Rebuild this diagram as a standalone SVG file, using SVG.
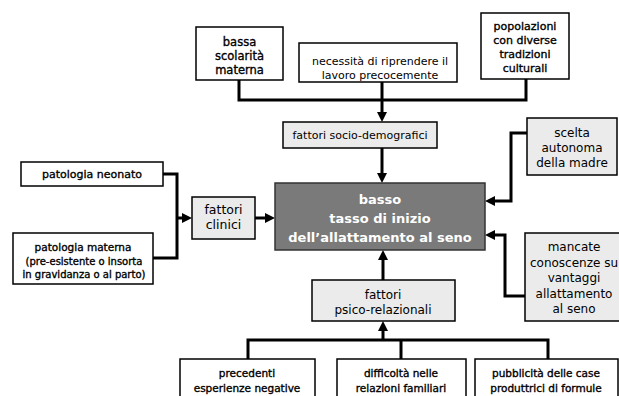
<svg xmlns="http://www.w3.org/2000/svg" width="619" height="396" viewBox="0 0 619 396">
<defs>
<marker id="ah" markerUnits="userSpaceOnUse" markerWidth="10" markerHeight="10" refX="6" refY="5" orient="auto">
<path d="M0,0 L10,5 L0,10 z" fill="#000"/>
</marker>
<style>
.box{fill:#fff;stroke:#000;stroke-width:1.5}
.lt{fill:#ebebeb;stroke:#000;stroke-width:1.5}
.dk{fill:#7a7a7a;stroke:#333;stroke-width:1.5}
.c{fill:none;stroke:#000;stroke-width:3}
.a{fill:none;stroke:#000;stroke-width:3;marker-end:url(#ah)}
text{font-family:"DejaVu Sans","Liberation Sans",sans-serif;text-anchor:middle;fill:#000}
.hv{stroke:#000;stroke-width:0.35}
.f11{font-size:11px}
.f115{font-size:11.5px}
.f12{font-size:12px}
.f125{font-size:12.5px}
.f105{font-size:10.5px}
.f10{font-size:10px}
.m{font-size:13px;font-weight:700;fill:#fff}
</style>
</defs>
<rect width="619" height="396" fill="#fff"/>
<g id="connectors">
<polyline class="c" points="239,80 239,100 526,100 526,79"/>
<line class="c" x1="382" y1="82" x2="382" y2="100"/>
<line class="a" x1="382" y1="100" x2="382" y2="118"/>
<line class="a" x1="382" y1="148" x2="382" y2="179"/>
<polyline class="c" points="163,174 177,174 177,258 153,258"/>
<line class="a" x1="177" y1="218" x2="188" y2="218"/>
<line class="a" x1="255" y1="218" x2="271" y2="218"/>
<polyline class="a" points="527,133 511,133 511,201 489,201"/>
<polyline class="a" points="525,296 505,296 505,235 489,235"/>
<line class="a" x1="383" y1="280" x2="383" y2="254"/>
<polyline class="c" points="248,359 248,340 548,340 548,359"/>
<line class="c" x1="401" y1="340" x2="401" y2="359"/>
<line class="a" x1="383" y1="340" x2="383" y2="325"/>
</g>
<g id="bassa">
<rect class="box" x="196" y="27" width="87" height="53"/>
<text class="f115 hv" x="239.5" y="46">bassa</text>
<text class="f115 hv" x="239.5" y="60">scolarità</text>
<text class="f115 hv" x="239.5" y="74">materna</text>
</g>
<g id="necessita">
<rect class="box" x="299" y="43" width="158" height="39"/>
<text class="f11" x="380" y="65">necessità di riprendere il</text>
<text class="f11" x="380" y="79">lavoro precocemente</text>
</g>
<g id="popolazioni">
<rect class="box" x="481" y="13" width="88" height="66"/>
<text class="f11 hv" x="525" y="30">popolazioni</text>
<text class="f11 hv" x="525" y="44">con diverse</text>
<text class="f11 hv" x="525" y="58">tradizioni</text>
<text class="f11 hv" x="525" y="72">culturali</text>
</g>
<g id="socio">
<rect class="lt" x="283" y="122" width="154" height="26"/>
<text class="f11" x="360" y="139">fattori socio-demografici</text>
</g>
<g id="main">
<rect class="dk" x="275" y="183" width="210" height="67"/>
<text class="m" x="380" y="204">basso</text>
<text class="m" x="380" y="223">tasso di inizio</text>
<text class="m" x="380" y="242">dell’allattamento al seno</text>
</g>
<g id="clinici">
<rect class="lt" x="192" y="197" width="63" height="42"/>
<text class="f125" x="223.5" y="214">fattori</text>
<text class="f125" x="223.5" y="229">clinici</text>
</g>
<g id="neonato">
<rect class="box" x="21" y="162" width="142" height="24"/>
<text class="f11 hv" x="92" y="178">patologia neonato</text>
</g>
<g id="materna">
<rect class="box" x="13" y="233" width="140" height="51"/>
<text class="f105 hv" x="83" y="251">patologia materna</text>
<text class="f10 hv" x="84" y="265">(pre-esistente o insorta</text>
<text class="f10 hv" x="84" y="278">in gravidanza o al parto)</text>
</g>
<g id="scelta">
<rect class="lt" x="527" y="118" width="90" height="57"/>
<text class="f12" x="572" y="137">scelta</text>
<text class="f12" x="572" y="152">autonoma</text>
<text class="f12" x="572" y="167">della madre</text>
</g>
<g id="mancate">
<rect class="lt" x="525" y="233" width="110" height="88"/>
<text class="f12" x="574" y="251">mancate</text>
<text class="f12" x="574" y="267">conoscenze su</text>
<text class="f12" x="574" y="282">vantaggi</text>
<text class="f12" x="574" y="298">allattamento</text>
<text class="f12" x="574" y="313">al seno</text>
</g>
<g id="psico">
<rect class="lt" x="312" y="280" width="143" height="41"/>
<text class="f12" x="383" y="299">fattori</text>
<text class="f12" x="383" y="314">psico-relazionali</text>
</g>
<g id="precedenti">
<rect class="box" x="180" y="359" width="135" height="45"/>
<text class="f105 hv" x="247" y="377">precedenti</text>
<text class="f105 hv" x="247" y="392">esperienze negative</text>
</g>
<g id="difficolta">
<rect class="box" x="337" y="359" width="129" height="45"/>
<text class="f105 hv" x="401" y="377">difficoltà nelle</text>
<text class="f105 hv" x="401" y="392">relazioni familiari</text>
</g>
<g id="pubblicita">
<rect class="box" x="475" y="359" width="143" height="45"/>
<text class="f105 hv" x="546" y="377">pubblicità delle case</text>
<text class="f105 hv" x="546" y="392">produttrici di formule</text>
</g>
</svg>
